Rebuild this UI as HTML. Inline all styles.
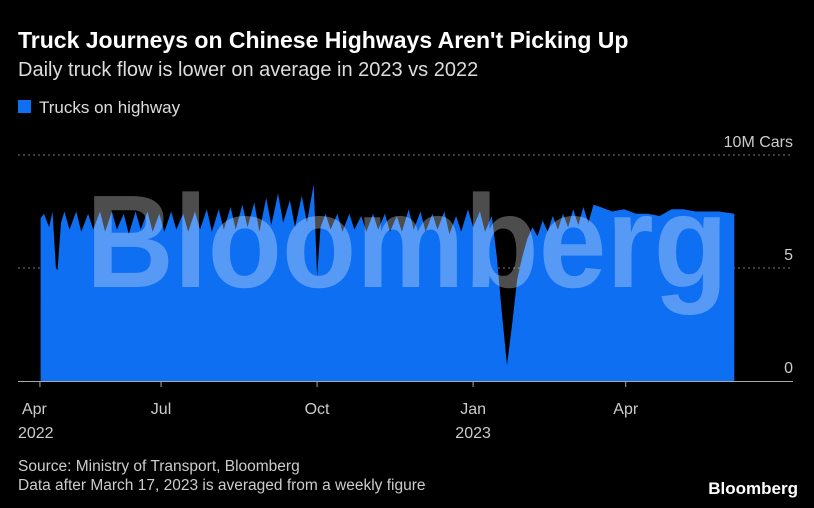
<!DOCTYPE html>
<html><head><meta charset="utf-8"><style>
body{margin:0;background:#000;}
svg{display:block;font-family:"Liberation Sans",Arial,sans-serif;}
</style></head><body>
<svg id="chart" width="814" height="508" viewBox="0 0 814 508">
<rect width="814" height="508" fill="#000"/>
<text x="18" y="48" fill="#fff" font-size="23" font-weight="bold">Truck Journeys on Chinese Highways Aren't Picking Up</text>
<text x="18" y="76" fill="#ddd" font-size="20">Daily truck flow is lower on average in 2023 vs 2022</text>
<rect x="18" y="100" width="13" height="13" fill="#0e6ff2"/>
<text x="39" y="113" fill="#ddd" font-size="17">Trucks on highway</text>
<g id="grid"></g>
<g id="area"></g>
<g id="axes"></g>
<text x="86" y="287" textLength="642" lengthAdjust="spacingAndGlyphs" font-size="132" font-weight="bold" fill="rgba(255,255,255,0.3)">Bloomberg</text>
<text x="18" y="471" fill="#ccc" font-size="15.5">Source: Ministry of Transport, Bloomberg</text>
<text x="18" y="490" fill="#ccc" font-size="15.5">Data after March 17, 2023 is averaged from a weekly figure</text>
<text x="798" y="494" text-anchor="end" fill="#fff" font-size="17" font-weight="bold">Bloomberg</text>
</svg>
<script>
const days=[20,22,25,27,29,30,32,34,37,41,44,48,51,55,58,62,65,69,72,76,79,83,86,90,93,97,100,104,107,111,114,118,121,125,128,132,135,139,142,146,149,153,156,160,163,167,170,174,177,181,183,185,188,191,195,198,202,205,209,212,216,219,223,226,230,233,237,240,244,247,251,254,258,261,265,268,272,275,279,282,286,289,292,295,298,301,304,307,310,313,316,319,322,325,328,331,334,337,340,343,346,350,357,364,371,378,385,392,399,406,413,420,429];
const values=[7.2,7.4,6.8,7.5,5.0,4.9,7.0,7.5,6.7,7.5,6.6,7.4,6.7,7.5,6.6,7.5,6.7,7.4,6.5,7.5,6.7,7.5,6.6,7.4,6.6,7.5,6.7,7.4,6.6,7.5,6.7,7.6,6.6,7.6,6.7,7.7,6.7,7.8,6.8,7.9,6.6,8.1,6.9,8.3,7.0,8.0,6.8,8.2,7.0,8.7,4.6,6.8,7.4,6.7,7.4,6.6,7.4,6.7,7.3,6.6,7.4,6.7,7.4,6.6,7.3,6.6,7.6,6.7,7.5,6.6,7.4,6.7,7.5,6.5,7.3,6.6,7.6,6.8,7.5,6.6,7.3,5.5,3.0,0.7,2.5,4.5,5.5,6.3,6.8,6.4,7.1,6.6,7.3,6.7,7.4,6.8,7.6,6.9,7.7,7.0,7.8,7.7,7.5,7.6,7.4,7.4,7.3,7.6,7.6,7.5,7.5,7.5,7.4];
const yTicks=[0,5,10];
const yTickLabels=["0","5","10M Cars"];
const xTickDays=[19.6,91,183,275,365];
const xTickLabels=["Apr","Jul","Oct","Jan","Apr"];
const xYearLabels=["2022","","","2023",""];
const NS="http://www.w3.org/2000/svg";
const x=d=>6.7+d*1.696;
const y=v=>381-v*22.6;
function mk(tag,attrs,parent){const e=document.createElementNS(NS,tag);for(const k in attrs)e.setAttribute(k,attrs[k]);document.getElementById(parent).appendChild(e);return e;}
yTicks.forEach((t,i)=>{
  if(t>0){const l=mk('line',{x1:18,x2:793,y1:y(t),y2:y(t),stroke:'#777','stroke-dasharray':'2,3','stroke-width':1},'grid');
  
  }
  const tx=mk('text',{x:793,y:y(t)-8,'text-anchor':'end',fill:'#ccc','font-size':16},'grid');
  tx.textContent=yTickLabels[i];
  
  
});
let d='M'+x(days[0])+','+y(0);
days.forEach((dd,i)=>{d+=' L'+x(dd).toFixed(1)+','+y(values[i]).toFixed(1);});
d+=' L'+x(days[days.length-1])+','+y(0)+' Z';
const p=mk('path',{d:d,fill:'#0e6ff2'},'area');


const base=mk('line',{x1:18,x2:793,y1:381.5,y2:381.5,stroke:'#aaa','stroke-width':1},'axes');


xTickDays.forEach((dd,i)=>{
  const px=x(dd);
  const tk=mk('line',{x1:px,x2:px,y1:381,y2:387,stroke:'#aaa'},'axes');
  
  
  const t=mk('text',{x:px,y:414,'text-anchor':i===0?'start':'middle',fill:'#ccc','font-size':16},'axes');
  if(i===0)t.setAttribute('x',px-18);
  t.textContent=xTickLabels[i];
  
  
  if(xYearLabels[i]){const yt=mk('text',{x:i===0?px-22:px,y:438,'text-anchor':i===0?'start':'middle',fill:'#ccc','font-size':16},'axes');
  yt.textContent=xYearLabels[i];
  
  }
});
</script>
</body></html>
